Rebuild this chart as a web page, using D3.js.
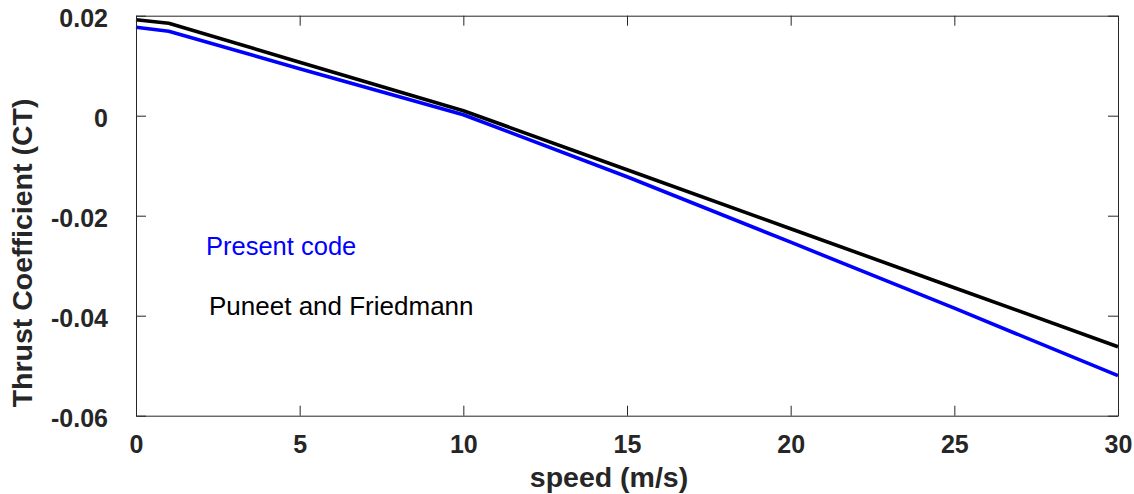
<!DOCTYPE html>
<html>
<head>
<meta charset="utf-8">
<script src="https://cdn.jsdelivr.net/npm/d3@7"></script>
<style>
  html, body { margin: 0; padding: 0; background: #fff; }
  svg { display: block; font-family: "Liberation Sans", Arial, Helvetica, sans-serif; }
</style>
</head>
<body>
<svg id="chart" width="1134" height="494"></svg>
<script>
// Forward speed (m/s)
const speed = [0, 1, 5, 10, 15, 20, 25, 30];
// Thrust coefficient from the present code
const ctPresent = [0.0177, 0.0169, 0.0094, 0.0002, -0.0122, -0.0253, -0.0385, -0.0520];
// Thrust coefficient from Puneet and Friedmann
const ctPuneet = [0.0192, 0.0185, 0.0107, 0.0010, -0.0108, -0.0226, -0.0344, -0.0462];

const xTicks = [0, 5, 10, 15, 20, 25, 30];
const yTicks = [0.02, 0, -0.02, -0.04, -0.06];
const yTickLabels = ["0.02", "0", "-0.02", "-0.04", "-0.06"];

const W = 1134, H = 494;
const margin = { left: 136, right: 16, top: 15.7, bottom: 78.3 };
const axisColor = "#262626";

const svg = d3.select("#chart");

const x = d3.scaleLinear().domain([0, 30]).range([margin.left, W - margin.right]);
const y = d3.scaleLinear().domain([-0.06, 0.02]).range([H - margin.bottom, margin.top]);

const tickLen = 10;

// Data lines
const line = d3.line()
  .x((d, i) => x(speed[i]))
  .y(d => y(d));

svg.append("path")
  .datum(ctPresent)
  .attr("fill", "none")
  .attr("stroke", "#0000ff")
  .attr("stroke-width", 3.6)
  .attr("stroke-linejoin", "round")
  .attr("d", line);

svg.append("path")
  .datum(ctPuneet)
  .attr("fill", "none")
  .attr("stroke", "#000000")
  .attr("stroke-width", 3.6)
  .attr("stroke-linejoin", "round")
  .attr("d", line);

// Axes: bottom and left with labels, top and right as plain box ticks
function styleAxis(g) {
  g.select(".domain").attr("stroke", axisColor).attr("stroke-width", 1);
  g.selectAll(".tick line").attr("stroke", axisColor).attr("stroke-width", 1);
  g.selectAll(".tick text")
    .attr("fill", axisColor)
    .attr("font-size", 25)
    .attr("font-weight", "bold");
}

const xAxis = svg.append("g")
  .attr("transform", `translate(0,${H - margin.bottom})`)
  .call(d3.axisBottom(x).tickValues(xTicks).tickSizeInner(-tickLen).tickSizeOuter(0).tickPadding(20).tickFormat(d3.format("d")));
styleAxis(xAxis);

const xAxisTop = svg.append("g")
  .attr("transform", `translate(0,${margin.top})`)
  .call(d3.axisTop(x).tickValues(xTicks).tickSizeInner(-tickLen).tickSizeOuter(0).tickFormat(""));
styleAxis(xAxisTop);

const yAxis = svg.append("g")
  .attr("transform", `translate(${margin.left},0)`)
  .call(d3.axisLeft(y).tickValues(yTicks).tickSizeInner(-tickLen).tickSizeOuter(0).tickPadding(28)
    .tickFormat((d, i) => yTickLabels[i]));
styleAxis(yAxis);
yAxis.selectAll(".tick text").attr("dy", "0.42em");

const yAxisRight = svg.append("g")
  .attr("transform", `translate(${W - margin.right},0)`)
  .call(d3.axisRight(y).tickValues(yTicks).tickSizeInner(-tickLen).tickSizeOuter(0).tickFormat(""));
styleAxis(yAxisRight);

// Axis titles
svg.append("text")
  .attr("x", 609)
  .attr("y", 487)
  .attr("text-anchor", "middle")
  .attr("font-size", 28.5)
  .attr("font-weight", "bold")
  .attr("fill", axisColor)
  .text("speed (m/s)");

svg.append("text")
  .attr("transform", "translate(32,253) rotate(-90)")
  .attr("text-anchor", "middle")
  .attr("font-size", 28.5)
  .attr("font-weight", "bold")
  .attr("fill", axisColor)
  .text("Thrust Coefficient (CT)");

// Series labels
svg.append("text")
  .attr("x", 206)
  .attr("y", 255)
  .attr("font-size", 25.5)
  .attr("fill", "#0000ff")
  .text("Present code");

svg.append("text")
  .attr("x", 209)
  .attr("y", 315)
  .attr("font-size", 26)
  .attr("fill", "#000000")
  .text("Puneet and Friedmann");
</script>
</body>
</html>
